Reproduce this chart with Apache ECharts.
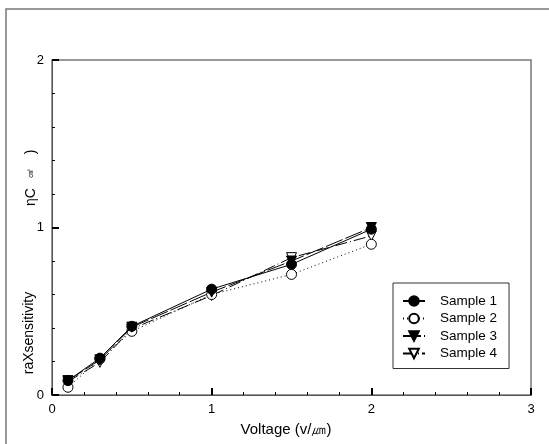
<!DOCTYPE html>
<html>
<head>
<meta charset="utf-8">
<script src="https://cdn.jsdelivr.net/npm/echarts@6/dist/echarts.min.js"></script>
<style>
html,body{margin:0;padding:0;background:#fff;}
#main{width:549px;height:444px;}
</style>
</head>
<body>
<div id="main"></div>
<script>
const voltage = [0.1, 0.3, 0.5, 1.0, 1.5, 2.0];
const sample1 = [0.086, 0.22, 0.41, 0.632, 0.78, 0.99];
const sample2 = [0.046, 0.215, 0.38, 0.60, 0.72, 0.90];
const sample3 = [0.086, 0.21, 0.405, 0.614, 0.80, 1.0];
const sample4 = [0.08, 0.195, 0.395, 0.594, 0.82, 0.95];
const seriesNames = ['Sample 1', 'Sample 2', 'Sample 3', 'Sample 4'];
const xTicks = [0, 1, 2, 3];
const yTicks = [0, 1, 2];

const FONT = 'Liberation Sans, Arial, sans-serif';
function pairs(ys) { return voltage.map((x, i) => [x, ys[i]]); }

const chart = echarts.init(document.getElementById('main'), null, {renderer: 'canvas'});

const axisCommon = {
  axisLine: {show: true, onZero: false, lineStyle: {color: '#555', width: 1}},
  axisTick: {show: true, inside: true, length: 7, lineStyle: {color: '#000', width: 2}},
  minorTick: {show: true, splitNumber: 5, length: 3, lineStyle: {color: '#000', width: 1}},
  splitLine: {show: false},
  minorSplitLine: {show: false},
  axisLabel: {color: '#000', fontFamily: FONT, fontSize: 13}
};

chart.setOption({
  animation: false,
  backgroundColor: '#fff',
  grid: {left: 52, right: 18, top: 60, bottom: 49, show: true, borderColor: '#777', borderWidth: 1.5, containLabel: false},
  xAxis: Object.assign({}, axisCommon, {
    type: 'value', min: xTicks[0], max: xTicks[xTicks.length - 1], interval: 1,
    axisLabel: Object.assign({}, axisCommon.axisLabel, {margin: 8})
  }),
  yAxis: Object.assign({}, axisCommon, {
    type: 'value', min: yTicks[0], max: yTicks[yTicks.length - 1], interval: 1,
    axisLabel: Object.assign({}, axisCommon.axisLabel, {margin: 8})
  }),
  legend: {
    orient: 'vertical', left: 393, top: 283,
    padding: [11, 12, 8, 9],
    itemGap: 3.5,
    itemWidth: 22, itemHeight: 12,
    borderColor: '#333', borderWidth: 1,
    backgroundColor: '#fff',
    textStyle: {color: '#000', fontFamily: FONT, fontSize: 13.5, padding: [0, 0, 0, 10]},
    data: seriesNames
  },
  graphic: [
    {type: 'rect', shape: {x: 6, y: 9, width: 620, height: 520}, style: {fill: 'none', stroke: '#777', lineWidth: 1.5}, silent: true, z: -1},
    {type: 'text', x: 286, y: 430, style: {text: 'Voltage (v/\u339b)', fontFamily: FONT, fontSize: 15, fill: '#000', textAlign: 'center', textVerticalAlign: 'middle'}},
    {type: 'text', x: 29, y: 333, rotation: Math.PI / 2, style: {text: 'raXsensitivity', fontFamily: FONT, fontSize: 14, fill: '#000', textAlign: 'center', textVerticalAlign: 'middle'}},
    {type: 'text', x: 31, y: 197, rotation: Math.PI / 2, style: {text: '\u03b7C', fontFamily: FONT, fontSize: 14, fill: '#000', textAlign: 'center', textVerticalAlign: 'middle'}},
    {type: 'text', x: 31, y: 173, rotation: Math.PI / 2, style: {text: '\u33a0', fontFamily: FONT, fontSize: 9, fill: '#000', textAlign: 'center', textVerticalAlign: 'middle'}},
    {type: 'text', x: 31, y: 152, rotation: Math.PI / 2, style: {text: ')', fontFamily: FONT, fontSize: 14, fill: '#000', textAlign: 'center', textVerticalAlign: 'middle'}}
  ],
  series: [
    {name: seriesNames[0], type: 'line', data: pairs(sample1), symbol: 'circle', symbolSize: 10,
     lineStyle: {color: '#000', width: 1, type: 'solid'},
     itemStyle: {color: '#000', borderColor: '#000', borderWidth: 1}, z: 4},
    {name: seriesNames[1], type: 'line', data: pairs(sample2), symbol: 'circle', symbolSize: 10,
     lineStyle: {color: '#000', width: 1, type: [1, 3]},
     itemStyle: {color: '#fff', borderColor: '#000', borderWidth: 1}, z: 3},
    {name: seriesNames[2], type: 'line', data: pairs(sample3), symbol: 'triangle', symbolRotate: 180, symbolSize: 10,
     lineStyle: {color: '#000', width: 1, type: [18, 3]},
     itemStyle: {color: '#000', borderColor: '#000', borderWidth: 1}, z: 5},
    {name: seriesNames[3], type: 'line', data: pairs(sample4), symbol: 'triangle', symbolRotate: 180, symbolSize: 10,
     lineStyle: {color: '#000', width: 1, type: [12, 3, 1, 3]},
     itemStyle: {color: '#fff', borderColor: '#000', borderWidth: 1}, z: 2}
  ]
});
</script>
</body>
</html>
